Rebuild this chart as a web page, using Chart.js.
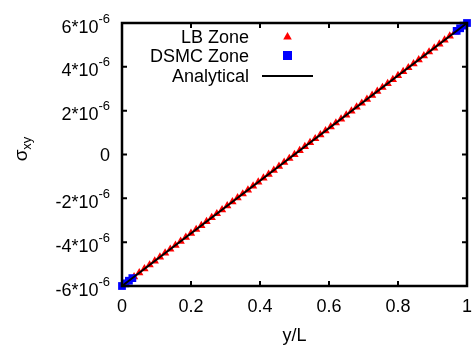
<!DOCTYPE html>
<html><head><meta charset="utf-8">
<script src="https://cdn.jsdelivr.net/npm/chart.js@4.4.1/dist/chart.umd.min.js"></script>
<style>html,body{margin:0;padding:0;background:#fff}canvas{display:block}</style>
</head><body>
<canvas id="c" width="476" height="351"></canvas>
<script>
// ---- data ----
const lbX = [0.035,0.05,0.065,0.08,0.095,0.11,0.125,0.14,0.155,0.17,0.185,0.2,0.215,0.23,0.245,0.26,0.275,0.29,0.305,0.32,0.335,0.35,0.365,0.38,0.395,0.41,0.425,0.44,0.455,0.47,0.485,0.5,0.515,0.53,0.545,0.56,0.575,0.59,0.605,0.62,0.635,0.65,0.665,0.68,0.695,0.71,0.725,0.74,0.755,0.77,0.785,0.8,0.815,0.83,0.845,0.86,0.875,0.89,0.905,0.92,0.935,0.95,0.965];
const lbSigma = [-5.58e-6,-5.40e-6,-5.22e-6,-5.04e-6,-4.86e-6,-4.68e-6,-4.50e-6,-4.32e-6,-4.14e-6,-3.96e-6,-3.78e-6,-3.60e-6,-3.42e-6,-3.24e-6,-3.06e-6,-2.88e-6,-2.70e-6,-2.52e-6,-2.34e-6,-2.16e-6,-1.98e-6,-1.80e-6,-1.62e-6,-1.44e-6,-1.26e-6,-1.08e-6,-0.90e-6,-0.72e-6,-0.54e-6,-0.36e-6,-0.18e-6,0,0.18e-6,0.36e-6,0.54e-6,0.72e-6,0.90e-6,1.08e-6,1.26e-6,1.44e-6,1.62e-6,1.80e-6,1.98e-6,2.16e-6,2.34e-6,2.52e-6,2.70e-6,2.88e-6,3.06e-6,3.24e-6,3.42e-6,3.60e-6,3.78e-6,3.96e-6,4.14e-6,4.32e-6,4.50e-6,4.68e-6,4.86e-6,5.04e-6,5.22e-6,5.40e-6,5.58e-6];
const dsmcX = [0,0.01,0.02,0.03,0.97,0.98,0.99,1.0];
const dsmcSigma = [-6.0e-6,-5.88e-6,-5.76e-6,-5.64e-6,5.64e-6,5.76e-6,5.88e-6,6.0e-6];
const analyticX = [0,1];
const analyticSigma = [-6e-6,6e-6];
const xTicks = [0,0.2,0.4,0.6,0.8,1];
const xTickLabels = ['0','0.2','0.4','0.6','0.8','1'];
const yTicks = [-6e-6,-4e-6,-2e-6,0,2e-6,4e-6,6e-6];
const yTickMain = ['-6*10','-4*10','-2*10','0','2*10','4*10','6*10'];
const yTickSup = ['-6','-6','-6','','-6','-6','-6'];
const seriesNames = ['LB Zone','DSMC Zone','Analytical'];

const FONT = '"Liberation Sans", Arial, Helvetica, sans-serif';
const pts = (xs, ys) => xs.map((x,i)=>({x:x,y:ys[i]}));

const decor = {
  id:'decor',
  afterDatasetsDraw(chart){
    const ctx = chart.ctx, a = chart.chartArea;
    const xs = chart.scales.x, ys = chart.scales.y;
    ctx.save();
    ctx.strokeStyle = '#000';
    // ticks
    ctx.lineWidth = 2;
    ctx.beginPath();
    xTicks.forEach(v=>{
      const px = xs.getPixelForValue(v);
      ctx.moveTo(px, a.bottom); ctx.lineTo(px, a.bottom-5);
      ctx.moveTo(px, a.top); ctx.lineTo(px, a.top+5);
    });
    yTicks.forEach(v=>{
      const py = ys.getPixelForValue(v);
      ctx.moveTo(a.left, py); ctx.lineTo(a.left+5, py);
      ctx.moveTo(a.right, py); ctx.lineTo(a.right-5, py);
    });
    ctx.stroke();
    // frame
    ctx.lineWidth = 2.5;
    ctx.strokeRect(a.left, a.top, a.right-a.left, a.bottom-a.top);
    // x tick labels
    ctx.fillStyle = '#000';
    ctx.font = '18px ' + FONT;
    ctx.textAlign = 'center';
    ctx.textBaseline = 'alphabetic';
    xTicks.forEach((v,i)=>{
      ctx.fillText(xTickLabels[i], xs.getPixelForValue(v), 312);
    });
    // y tick labels
    const rx = 110;
    yTicks.forEach((v,i)=>{
      const py = ys.getPixelForValue(v);
      ctx.textAlign = 'right';
      if (yTickSup[i]) {
        ctx.font = '13px ' + FONT;
        const w = ctx.measureText(yTickSup[i]).width;
        ctx.fillText(yTickSup[i], rx, py - 0.5);
        ctx.font = '18px ' + FONT;
        ctx.fillText(yTickMain[i], rx - w, py + 9.5);
      } else {
        ctx.font = '18px ' + FONT;
        ctx.fillText(yTickMain[i], rx, py + 6.5);
      }
    });
    // x axis title
    ctx.font = '18px ' + FONT;
    ctx.textAlign = 'center';
    ctx.fillText('y/L', (a.left+a.right)/2, 341);
    // y axis title sigma_xy
    ctx.save();
    ctx.translate(27, 149);
    ctx.rotate(-Math.PI/2);
    ctx.font = '19px ' + FONT;
    const ws = ctx.measureText('σ').width;
    ctx.font = '13px ' + FONT;
    const wsub = ctx.measureText('xy').width;
    const tot = ws + wsub;
    ctx.textAlign = 'left';
    ctx.font = '19px ' + FONT;
    ctx.fillText('σ', -tot/2, 0);
    ctx.font = '13px ' + FONT;
    ctx.fillText('xy', -tot/2 + ws, 4);
    ctx.restore();
    // legend
    ctx.font = '18px ' + FONT;
    ctx.textAlign = 'right';
    const tx = 249, mx = 287.5;
    const rows = [42.5, 62, 81.5];
    seriesNames.forEach((n,i)=>ctx.fillText(n, tx, rows[i]));
    // triangle
    ctx.fillStyle = '#ff0000';
    ctx.beginPath();
    const ty = 36.5;
    ctx.moveTo(mx, ty-4.5); ctx.lineTo(mx+4.3, ty+3); ctx.lineTo(mx-4.3, ty+3); ctx.closePath();
    ctx.fill();
    // square
    ctx.fillStyle = '#0000ff';
    ctx.fillRect(mx-4.5, 55.5-4.5, 9, 9);
    // line
    ctx.strokeStyle = '#000';
    ctx.lineWidth = 2;
    ctx.beginPath(); ctx.moveTo(262, 76); ctx.lineTo(313, 76); ctx.stroke();
    ctx.restore();
  }
};

new Chart(document.getElementById('c'), {
  type: 'scatter',
  data: {
    datasets: [
      { label: seriesNames[0], data: pts(lbX, lbSigma), pointStyle: 'triangle', pointRadius: 4.8,
        backgroundColor: '#ff0000', borderColor: '#ff0000', borderWidth: 0, showLine: false, order: 2, clip: false },
      { label: seriesNames[1], data: pts(dsmcX, dsmcSigma), pointStyle: 'rect', pointRadius: 5.5,
        backgroundColor: '#0000ff', borderColor: '#0000ff', borderWidth: 0, showLine: false, order: 1, clip: false },
      { label: seriesNames[2], type: 'line', data: pts(analyticX, analyticSigma), pointRadius: 0,
        borderColor: '#000', borderWidth: 2, fill: false, order: 0, clip: false }
    ]
  },
  options: {
    responsive: false,
    animation: false,
    devicePixelRatio: 1,
    layout: { padding: { left: 122, right: 9, top: 23, bottom: 65 } },
    plugins: { legend: { display: false }, tooltip: { enabled: false } },
    scales: {
      x: { type: 'linear', min: 0, max: 1, display: false },
      y: { type: 'linear', min: -6e-6, max: 6e-6, display: false }
    }
  },
  plugins: [decor]
});
</script>
</body></html>
